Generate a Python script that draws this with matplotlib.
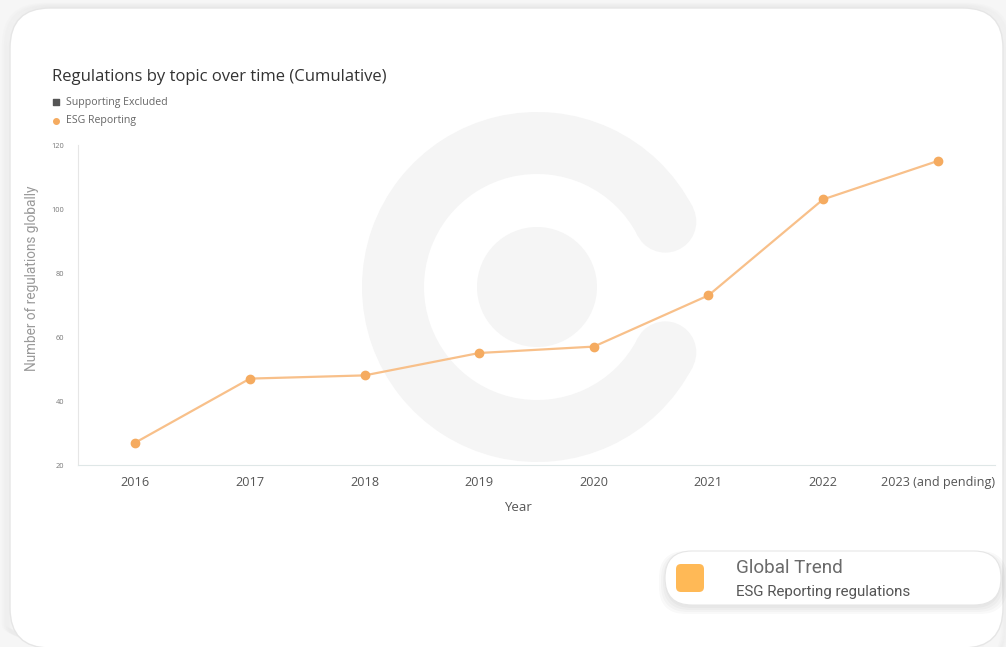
import math

import matplotlib
matplotlib.use("Agg")
from matplotlib import pyplot as plt
from matplotlib.patches import FancyBboxPatch, Wedge, Circle

# data
years = ["2016", "2017", "2018", "2019", "2020", "2021", "2022", "2023 (and pending)"]
esg_reporting = [27, 47, 48, 55, 57, 73, 103, 115]
y_ticks = [20, 40, 60, 80, 100, 120]

W, H = 1006, 647
ORANGE_LINE = "#f8c08a"
ORANGE_DOT = "#f5ab60"
WATERMARK = "#f5f5f5"

plt.rcParams["font.family"] = ["Open Sans", "DejaVu Sans"]

fig = plt.figure(figsize=(W / 100, H / 100), dpi=100)
fig.patch.set_facecolor("#f6f6f6")

# background layer in pixel coordinates
bg = fig.add_axes([0, 0, 1, 1], zorder=0)
bg.set_xlim(0, W)
bg.set_ylim(H, 0)
bg.axis("off")

# soft shadow + white card
for i in range(4):
    bg.add_patch(FancyBboxPatch((10 - 2 * i, 8 - i), 993 + 4 * i, 660,
                                boxstyle="round,pad=0,rounding_size=40",
                                fc="none", ec="#c8c8c8", lw=3, alpha=0.05))
bg.add_patch(FancyBboxPatch((10, 8), 993, 640, boxstyle="round,pad=0,rounding_size=40",
                            fc="white", ec="#e6e6e6", lw=1))

# watermark logo
cx, cy = 537, 287
r_out, r_in = 175, 113
gap = 27
bg.add_patch(Wedge((cx, cy), r_out, gap, 360 - gap, width=r_out - r_in, fc=WATERMARK, ec="none"))
r_mid = (r_out + r_in) / 2
for ang in (gap, -gap):
    bg.add_patch(Circle((cx + r_mid * math.cos(math.radians(ang)),
                         cy - r_mid * math.sin(math.radians(ang))),
                        (r_out - r_in) / 2, fc=WATERMARK, ec="none"))
bg.add_patch(Circle((cx, cy), 60, fc=WATERMARK, ec="none"))

# title and legend
bg.text(52, 77, "Regulations by topic over time (Cumulative)", fontsize=12,
        color="#333333", va="center", ha="left", weight="medium")
bg.scatter([56], [102], marker="s", s=18, color="#555555")
bg.text(66, 102, "Supporting Excluded", fontsize=7.6, color="#666666", va="center")
bg.scatter([56], [121], marker="o", s=16, color=ORANGE_DOT)
bg.text(66, 121, "ESG Reporting", fontsize=7.6, color="#666666", va="center")

# global trend card
for i in range(4):
    bg.add_patch(FancyBboxPatch((665 - i * 2, 551 - i + 3), 336 + i * 4, 54 + i * 3,
                                boxstyle="round,pad=0,rounding_size=27",
                                fc="#000000", ec="none", alpha=0.025))
bg.add_patch(FancyBboxPatch((665, 551), 336, 54, boxstyle="round,pad=0,rounding_size=27",
                            fc="white", ec="#e6e6e6", lw=0.8))
bg.add_patch(FancyBboxPatch((676, 564), 28, 28, boxstyle="round,pad=0,rounding_size=5",
                            fc="#ffb956", ec="none"))
bg.text(736, 568, "Global Trend", fontsize=13.6, color="#6a6a6a", va="center",
        family=["Roboto", "DejaVu Sans"])
bg.text(736, 592, "ESG Reporting regulations", fontsize=10.9, color="#555555", va="center",
        family=["Roboto", "DejaVu Sans"])

# chart
ax = fig.add_axes([78 / W, 1 - 465 / H, (995 - 78) / W, (465 - 145) / H], zorder=1)
ax.set_facecolor("none")
x = list(range(len(years)))
ax.plot(x, esg_reporting, color=ORANGE_LINE, lw=1.6, zorder=2)
ax.scatter(x, esg_reporting, s=36, color=ORANGE_DOT, zorder=3)
ax.set_xlim(-0.5, len(years) - 0.5)
ax.set_ylim(20, 120)
ax.set_xticks(x, years)
ax.set_yticks(y_ticks)
ax.tick_params(axis="x", length=0, pad=8, labelsize=9.1, labelcolor="#555555")
ax.tick_params(axis="y", length=0, pad=10, labelsize=5.3, labelcolor="#777777")
for s in ("top", "right"):
    ax.spines[s].set_visible(False)
ax.spines["left"].set_color("#e6e6e6")
ax.spines["bottom"].set_color("#dfe7e7")
ax.set_xlabel("Year", fontsize=9.5, color="#555555")
ax.xaxis.set_label_coords((518 - 78) / 917, -36 / 320)
ax.set_ylabel("Number of regulations globally", fontsize=9.8, color="#999999",
              family=["Roboto", "DejaVu Sans"])
ax.yaxis.set_label_coords(-39 / 917, (465 - 278) / 320)

fig.savefig("out.png", dpi=100)
